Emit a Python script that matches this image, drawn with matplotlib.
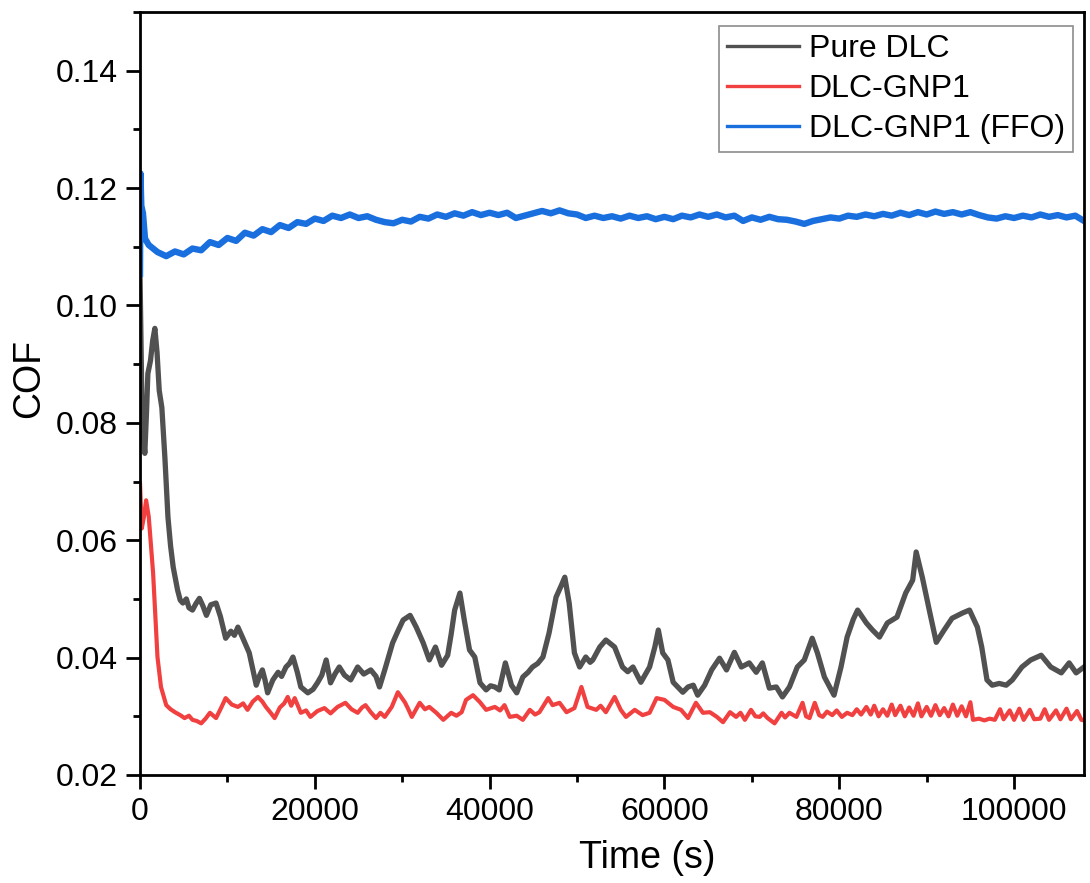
import matplotlib
matplotlib.use("Agg")
import matplotlib.pyplot as plt
from matplotlib.ticker import MultipleLocator, FormatStrFormatter

plt.rcParams['font.family'] = ['Liberation Sans', 'DejaVu Sans']

# ---- friction data: time (s) and coefficient of friction ----
pure_time = [0, 250, 550, 750, 900, 1200, 1450, 1700, 1950, 2200, 2500, 2850, 3200, 3500, 3800,
             4300, 4600, 4900, 5300, 5600, 6000, 6400, 6800, 7200, 7600, 8100, 8700, 9200, 9800,
             10400, 10800, 11200, 11800, 12500, 13300, 13700, 14000, 14300, 14600, 15200, 15800,
             16200, 16700, 17100, 17500, 18000, 18400, 19200, 19800, 20300, 20800, 21300, 21800,
             22300, 22800, 23400, 24100, 24900, 25600, 26400, 27000, 27400, 28000, 28900, 29500,
             30100, 30900, 31600, 32400, 33100, 33800, 34500, 35200, 35600, 36000, 36600, 37100,
             37700, 38300, 38900, 39600, 40100, 40600, 41100, 41800, 42500, 43100, 43800, 44400,
             44900, 45500, 46100, 46800, 47600, 48200, 48600, 49100, 49700, 50300, 51000, 51500,
             51800, 52600, 53300, 54300, 55200, 55800, 56400, 57300, 58300, 58900, 59300, 59800,
             60400, 61000, 62100, 62700, 63300, 63800, 64600, 65400, 66300, 67100, 68000, 68800,
             69700, 70500, 71200, 72000, 72800, 73500, 74300, 75200, 76000, 76900, 77500, 78300,
             79400, 80200, 80900, 81600, 82100, 83100, 83800, 84600, 85500, 86600, 87600, 88400,
             88800, 89500, 90300, 91100, 92000, 92900, 94100, 94900, 95800, 96300, 96900, 97500,
             98300, 99100, 99800, 100900, 101900, 103100, 104200, 105400, 106300, 107100, 108000]
pure_cof = [0.1054, 0.0800, 0.0748, 0.0820, 0.0884, 0.0906, 0.0940, 0.0961, 0.0920, 0.0855, 0.0826,
            0.0740, 0.0639, 0.0590, 0.0554, 0.0515, 0.0498, 0.0493, 0.0500, 0.0485, 0.0481, 0.0492,
            0.0501, 0.0488, 0.0472, 0.0490, 0.0493, 0.0470, 0.0433, 0.0445, 0.0438, 0.0452, 0.0432,
            0.0408, 0.0353, 0.0370, 0.0379, 0.0362, 0.0340, 0.0362, 0.0375, 0.0368, 0.0384, 0.0390,
            0.0401, 0.0375, 0.0350, 0.0340, 0.0346, 0.0357, 0.0370, 0.0396, 0.0357, 0.0372, 0.0384,
            0.0370, 0.0362, 0.0384, 0.0372, 0.0379, 0.0368, 0.0350, 0.0379, 0.0425, 0.0445, 0.0464,
            0.0472, 0.0452, 0.0425, 0.0396, 0.0418, 0.0387, 0.0404, 0.0440, 0.0481, 0.0510, 0.0464,
            0.0413, 0.0401, 0.0357, 0.0345, 0.0352, 0.0350, 0.0345, 0.0391, 0.0353, 0.0340, 0.0367,
            0.0375, 0.0384, 0.0390, 0.0401, 0.0442, 0.0503, 0.0523, 0.0537, 0.0493, 0.0408, 0.0384,
            0.0401, 0.0392, 0.0396, 0.0418, 0.0430, 0.0418, 0.0384, 0.0376, 0.0384, 0.0358, 0.0384,
            0.0418, 0.0447, 0.0408, 0.0396, 0.0358, 0.0341, 0.0350, 0.0353, 0.0336, 0.0353, 0.0379,
            0.0399, 0.0379, 0.0409, 0.0384, 0.0391, 0.0375, 0.0391, 0.0348, 0.0350, 0.0333, 0.0350,
            0.0384, 0.0396, 0.0433, 0.0408, 0.0367, 0.0336, 0.0384, 0.0435, 0.0465, 0.0481, 0.0459,
            0.0447, 0.0435, 0.0459, 0.0469, 0.0510, 0.0532, 0.0580, 0.0537, 0.0481, 0.0426, 0.0447,
            0.0467, 0.0476, 0.0481, 0.0452, 0.0418, 0.0362, 0.0353, 0.0356, 0.0353, 0.0362, 0.0384,
            0.0396, 0.0404, 0.0384, 0.0374, 0.0391, 0.0374, 0.0384]

gnp_time = [0, 200, 450, 700, 1000, 1500, 2000, 2400, 3000, 3500, 4000, 4600, 5100, 5600, 6000,
            6500, 7000, 7500, 8000, 8700, 9300, 9800, 10500, 11200, 11800, 12300, 12900, 13500,
            14000, 14400, 15000, 15400, 16000, 16500, 16900, 17300, 17700, 18400, 19000, 19500,
            20300, 21100, 21800, 22600, 23500, 24200, 24900, 25400, 25800, 26400, 27000, 27500,
            28000, 28800, 29500, 30300, 30700, 31100, 32000, 32600, 33100, 33900, 34700, 35600,
            36200, 36800, 37300, 38100, 38900, 39600, 40600, 41200, 41700, 42300, 43100, 43800,
            44600, 45200, 45700, 46700, 47200, 48000, 48800, 49700, 50500, 51200, 52200, 52700,
            53300, 54300, 55000, 55600, 56600, 57500, 58300, 59100, 60000, 60500, 61000, 61900,
            62700, 63600, 64400, 65200, 66000, 66700, 67500, 68200, 68700, 69200, 69900, 70400,
            70900, 71300, 71800, 72600, 73400, 73800, 74300, 75100, 75800, 76200, 76600, 77200,
            77700, 78100, 78600, 79200, 79700, 80300, 80900, 81500, 82000, 82500, 83100, 83600,
            84000, 84500, 85000, 85500, 86000, 86400, 87000, 87500, 88000, 88500, 89000, 89400,
            90000, 90500, 91000, 91500, 92000, 92500, 93000, 93500, 94000, 94500, 95000, 95300,
            96000, 96600, 97200, 97800, 98400, 98800, 99500, 100000, 100600, 101100, 101800,
            102300, 103000, 103500, 104000, 104800, 105300, 106000, 106500, 107200, 107700, 108000]
gnp_cof = [0.0697, 0.0620, 0.0640, 0.0668, 0.0640, 0.0544, 0.0401, 0.0350, 0.0319, 0.0312, 0.0307,
           0.0302, 0.0297, 0.0301, 0.0294, 0.0292, 0.0288, 0.0296, 0.0306, 0.0297, 0.0315, 0.0331,
           0.0320, 0.0316, 0.0322, 0.0311, 0.0325, 0.0333, 0.0325, 0.0316, 0.0305, 0.0297, 0.0315,
           0.0322, 0.0333, 0.0318, 0.0331, 0.0306, 0.0310, 0.0299, 0.0309, 0.0314, 0.0305, 0.0316,
           0.0323, 0.0312, 0.0306, 0.0315, 0.0319, 0.0307, 0.0297, 0.0306, 0.0299, 0.0316, 0.0341,
           0.0324, 0.0312, 0.0299, 0.0323, 0.0312, 0.0316, 0.0306, 0.0294, 0.0306, 0.0301, 0.0307,
           0.0328, 0.0336, 0.0324, 0.0311, 0.0316, 0.0310, 0.0319, 0.0299, 0.0301, 0.0294, 0.0311,
           0.0303, 0.0307, 0.0331, 0.0319, 0.0323, 0.0307, 0.0314, 0.0350, 0.0316, 0.0311, 0.0318,
           0.0307, 0.0333, 0.0311, 0.0299, 0.0311, 0.0302, 0.0306, 0.0331, 0.0328, 0.0322, 0.0316,
           0.0311, 0.0297, 0.0323, 0.0306, 0.0307, 0.0299, 0.0290, 0.0307, 0.0299, 0.0306, 0.0294,
           0.0311, 0.0300, 0.0299, 0.0305, 0.0297, 0.0288, 0.0306, 0.0298, 0.0306, 0.0299, 0.0323,
           0.0300, 0.0297, 0.0323, 0.0302, 0.0299, 0.0308, 0.0302, 0.0310, 0.0299, 0.0306, 0.0302,
           0.0312, 0.0303, 0.0316, 0.0303, 0.0318, 0.0300, 0.0312, 0.0301, 0.0320, 0.0302, 0.0318,
           0.0300, 0.0315, 0.0301, 0.0322, 0.0300, 0.0316, 0.0301, 0.0319, 0.0302, 0.0314, 0.0300,
           0.0320, 0.0301, 0.0317, 0.0300, 0.0324, 0.0294, 0.0296, 0.0293, 0.0296, 0.0294, 0.0312,
           0.0295, 0.0310, 0.0294, 0.0313, 0.0294, 0.0311, 0.0295, 0.0296, 0.0312, 0.0294, 0.0310,
           0.0295, 0.0313, 0.0295, 0.0309, 0.0294, 0.0293]

ffo_time = [0, 50, 150, 340, 570,
            1000, 2000, 3000, 4000, 5000, 6000, 7000, 8000, 9000, 10000, 11000, 12000, 13000,
            14000, 15000, 16000, 17000, 18000, 19000, 20000, 21000, 22000, 23000, 24000, 25000,
            26000, 27000, 28000, 29000, 30000, 31000, 32000, 33000, 34000, 35000, 36000, 37000,
            38000, 39000, 40000, 41000, 42000, 43000, 44000, 45000, 46000, 47000, 48000, 49000,
            50000, 51000, 52000, 53000, 54000, 55000, 56000, 57000, 58000, 59000, 60000, 61000,
            62000, 63000, 64000, 65000, 66000, 67000, 68000, 69000, 70000, 71000, 72000, 73000,
            74000, 75000, 76000, 77000, 78000, 79000, 80000, 81000, 82000, 83000, 84000, 85000,
            86000, 87000, 88000, 89000, 90000, 91000, 92000, 93000, 94000, 95000, 96000, 97000,
            98000, 99000, 100000, 101000, 102000, 103000, 104000, 105000, 106000, 107000, 108000]
ffo_cof = [0.1054, 0.1225, 0.1170, 0.1157, 0.1114,
           0.1103, 0.1091, 0.1084, 0.1092, 0.1087, 0.1097, 0.1094, 0.1108, 0.1103, 0.1115,
           0.1110, 0.1124, 0.1119, 0.1130, 0.1125, 0.1137, 0.1132, 0.1142, 0.1139, 0.1148,
           0.1144, 0.1153, 0.1149, 0.1155, 0.1149, 0.1152, 0.1146, 0.1142, 0.1140, 0.1146,
           0.1143, 0.1151, 0.1148, 0.1155, 0.1151, 0.1157, 0.1153, 0.1159, 0.1154, 0.1158,
           0.1154, 0.1158, 0.1149, 0.1153, 0.1157, 0.1161, 0.1157, 0.1162, 0.1157, 0.1155,
           0.1149, 0.1153, 0.1149, 0.1152, 0.1148, 0.1153, 0.1149, 0.1152, 0.1147, 0.1151,
           0.1147, 0.1153, 0.1150, 0.1155, 0.1151, 0.1155, 0.1150, 0.1153, 0.1144, 0.1150,
           0.1146, 0.1151, 0.1147, 0.1146, 0.1143, 0.1139, 0.1144, 0.1147, 0.1150, 0.1148,
           0.1153, 0.1151, 0.1155, 0.1152, 0.1156, 0.1153, 0.1158, 0.1154, 0.1159, 0.1155,
           0.1160, 0.1156, 0.1159, 0.1155, 0.1159, 0.1154, 0.1150, 0.1148, 0.1152, 0.1149,
           0.1153, 0.1150, 0.1155, 0.1151, 0.1154, 0.1150, 0.1153, 0.1144]

series_labels = ['Pure DLC', 'DLC-GNP1', 'DLC-GNP1 (FFO)']
series_colors = ['#515151', '#F14040', '#1A6FDF']
x_ticks = [0, 20000, 40000, 60000, 80000, 100000]
y_ticks = [0.02, 0.04, 0.06, 0.08, 0.10, 0.12, 0.14]

fig = plt.figure(figsize=(10.9, 8.83), dpi=100)
ax = fig.add_axes([140 / 1090, 1 - 775 / 883, 944 / 1090, 763 / 883])

ax.plot(pure_time, pure_cof, color=series_colors[0], lw=3.8, label=series_labels[0])
ax.plot(gnp_time, gnp_cof, color=series_colors[1], lw=3.0, label=series_labels[1])
ax.plot(ffo_time, ffo_cof, color=series_colors[2], lw=4.6, label=series_labels[2])

ax.set_xlim(0, 108000)
ax.set_ylim(0.02, 0.15)
ax.set_xticks(x_ticks)
ax.set_yticks(y_ticks)
ax.xaxis.set_minor_locator(MultipleLocator(10000))
ax.yaxis.set_minor_locator(MultipleLocator(0.01))
ax.yaxis.set_major_formatter(FormatStrFormatter('%.2f'))

for s in ax.spines.values():
    s.set_linewidth(2.0)
ax.tick_params(which='major', direction='out', length=10, width=2.0, labelsize=23, pad=6)
ax.tick_params(which='minor', direction='out', length=5, width=2.0)
ax.tick_params(top=False, right=False, which='both')

ax.set_xlabel('Time (s)', fontsize=27)
ax.set_ylabel('COF', fontsize=27)
ax.xaxis.set_label_coords(0.537, -0.085)
ax.yaxis.set_label_coords(-0.098, 0.52)

leg = ax.legend(loc='upper right', bbox_to_anchor=(0.9883, 0.9817), borderaxespad=0,
                fontsize=23, frameon=True, fancybox=False, framealpha=1,
                edgecolor='#8c8c8c', handlelength=2.25, handletextpad=0.3,
                borderpad=0.25, labelspacing=0.32)
leg.get_frame().set_linewidth(1.2)
for h in leg.get_lines():
    h.set_linewidth(2.4)

fig.savefig('out.png', dpi=100)
